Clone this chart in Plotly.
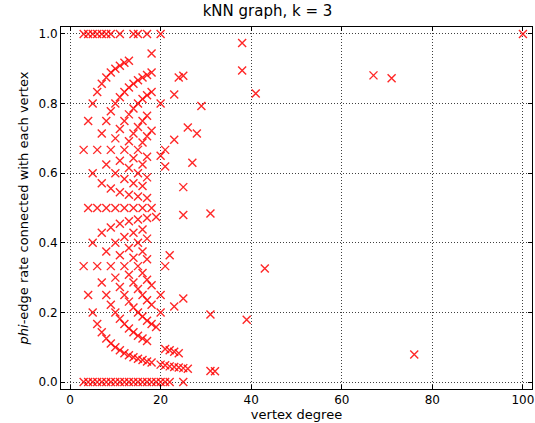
import plotly.graph_objects as go

# vertex degree of each plotted vertex
degree = (
    [3]*4 + [4]*5 + [5]*6 + [6]*7 + [7]*8 + [8]*9 + [9]*10 + [10]*10 +
    [11]*12 + [12]*12 + [13]*13 + [14]*14 + [15]*15 + [16]*15 + [17]*17 +
    [18]*10 + [19]*3 + [20]*7 + [21]*6 + [22]*4 + [23]*5 + [24]*3 + [25]*6 +
    [26]*2 + [27, 28, 29] + [31]*3 + [32] + [38]*2 + [39, 41, 43, 67, 71, 76, 100]
)

# phi-edge rate of each plotted vertex (same order as degree)
rate = [
    0, 0.333, 0.667, 1,
    0, 0.25, 0.5, 0.75, 1,
    0, 0.2, 0.4, 0.6, 0.8, 1,
    0, 0.167, 0.333, 0.5, 0.667, 0.833, 1,
    0, 0.143, 0.286, 0.429, 0.571, 0.714, 0.857, 1,
    0, 0.125, 0.25, 0.375, 0.5, 0.625, 0.75, 0.875, 1,
    0, 0.111, 0.222, 0.333, 0.444, 0.556, 0.667, 0.778, 0.889, 1,
    0, 0.1, 0.2, 0.3, 0.4, 0.5, 0.6, 0.7, 0.8, 0.9,
    0, 0.091, 0.182, 0.273, 0.364, 0.455, 0.545, 0.636, 0.727, 0.818, 0.909, 1,
    0, 0.083, 0.167, 0.25, 0.333, 0.417, 0.5, 0.583, 0.667, 0.75, 0.833, 0.917,
    0, 0.077, 0.154, 0.231, 0.308, 0.385, 0.462, 0.538, 0.615, 0.692, 0.769, 0.846, 0.923,
    0, 0.071, 0.143, 0.214, 0.286, 0.357, 0.429, 0.5, 0.571, 0.643, 0.714, 0.786, 0.857, 1,
    0, 0.067, 0.133, 0.2, 0.267, 0.333, 0.4, 0.467, 0.533, 0.6, 0.667, 0.733, 0.8, 0.867, 1,
    0, 0.063, 0.125, 0.188, 0.25, 0.313, 0.375, 0.438, 0.5, 0.563, 0.625, 0.688, 0.75, 0.813, 0.875,
    0, 0.059, 0.118, 0.176, 0.235, 0.294, 0.353, 0.412, 0.471, 0.529, 0.588, 0.647, 0.706, 0.765, 0.824, 0.882, 1,
    0, 0.056, 0.167, 0.222, 0.278, 0.5, 0.722, 0.833, 0.889, 0.944,
    0, 0.158, 0.474,
    0, 0.05, 0.2, 0.25, 0.65, 0.8, 1,
    0, 0.048, 0.095, 0.333, 0.619, 0.667,
    0, 0.045, 0.091, 0.364,
    0.043, 0.087, 0.217, 0.696, 0.826,
    0.042, 0.083, 0.875,
    0, 0.04, 0.24, 0.48, 0.56, 0.88,
    0.038, 0.731,
    0.63, 0.714, 0.793,
    0.032, 0.194, 0.484,
    0.031,
    0.895, 0.974,
    0.179, 0.829, 0.326, 0.881, 0.873, 0.079, 1.0,
]

x_ticks = [0, 20, 40, 60, 80, 100]
y_ticks = [0.0, 0.2, 0.4, 0.6, 0.8, 1.0]

fig = go.Figure()
fig.add_trace(go.Scatter(
    x=degree, y=rate, mode="markers", cliponaxis=False,
    marker=dict(symbol="x-thin", size=8,
                line=dict(width=1.4, color="rgba(255,0,0,0.85)")),
    showlegend=False,
))

axis_common = dict(
    showline=True, linecolor="black", linewidth=1, mirror="allticks",
    ticks="inside", ticklen=4, tickwidth=1, tickcolor="black",
    showgrid=True, gridcolor="rgba(0,0,0,0.75)", gridwidth=1, griddash="1px,2px",
    zeroline=False, automargin=False,
    tickfont=dict(family="DejaVu Sans", size=12, color="black"),
)

fig.update_xaxes(range=[-2, 102], tickvals=x_ticks,
                 title=dict(text="vertex degree", font=dict(family="DejaVu Sans", size=13, color="black"), standoff=0),
                 **axis_common)
fig.update_yaxes(range=[-0.02, 1.02], tickvals=y_ticks, tickformat=".1f",
                 title=dict(text="<i>phi</i>-edge rate connected with each vertex",
                            font=dict(family="DejaVu Sans", size=13, color="black"), standoff=6),
                 **axis_common)

fig.update_layout(
    width=535, height=423,
    margin=dict(l=61, r=3, t=27, b=34, autoexpand=False),
    paper_bgcolor="white", plot_bgcolor="white",
    title=dict(text="kNN graph, k = 3", x=0.5, xanchor="center",
               y=0.974, yanchor="middle", yref="container", automargin=False,
               font=dict(family="DejaVu Sans", size=15, color="black")),
)

fig.write_html("out.html", config={"displayModeBar": False},
               post_script="document.body.style.margin='0';document.body.style.padding='0';")
